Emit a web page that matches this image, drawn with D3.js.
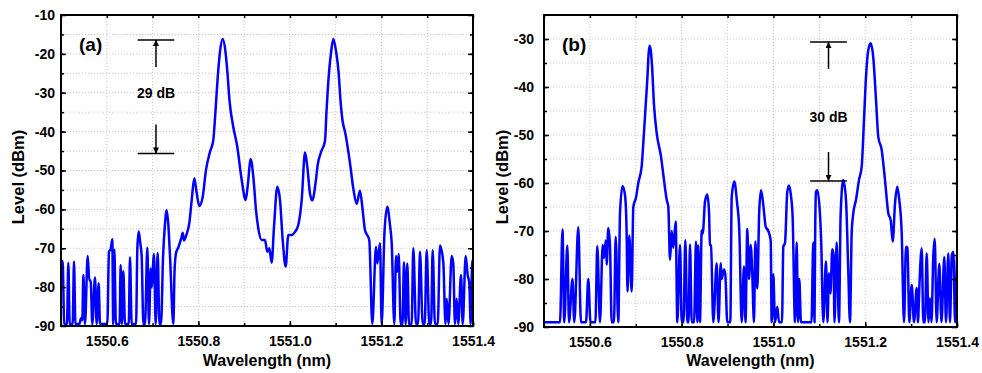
<!DOCTYPE html>
<html>
<head>
<meta charset="utf-8">
<script src="https://cdn.jsdelivr.net/npm/d3@7"></script>
<style>
  body { margin: 0; background: #fff; }
  svg text { font-family: Arial, "Liberation Sans", Helvetica, sans-serif; font-weight: bold; fill: #000; }
</style>
</head>
<body>
<svg id="chart" width="982" height="373"></svg>
<script>
// panel (a) spectrum
const wavelengthA = [1550.5000,1550.5036,1550.5070,1550.5130,1550.5160,1550.5190,1550.5255,1550.5284,1550.5315,1550.5400,
  1550.5437,1550.5466,1550.5488,1550.5524,1550.5583,1550.5619,1550.5648,1550.5684,1550.5743,1550.5779,
  1550.5823,1550.5852,1550.6012,1550.6048,1550.6085,1550.6121,1550.6140,1550.6165,1550.6200,1550.6280,
  1550.6303,1550.6330,1550.6362,1550.6398,1550.6480,1550.6507,1550.6544,1550.6640,1550.6668,1550.6697,
  1550.6730,1550.6762,1550.6800,1550.6835,1550.6886,1550.6922,1550.6959,1550.6980,1550.7031,1550.7068,
  1550.7112,1550.7150,1550.7185,1550.7230,1550.7270,1550.7308,1550.7345,1550.7381,1550.7454,1550.7480,
  1550.7512,1550.7563,1550.7600,1550.7637,1550.7658,1550.7687,1550.7746,1550.7803,1550.7855,1550.7912,
  1550.7964,1550.8021,1550.8095,1550.8167,1550.8255,1550.8327,1550.8373,1550.8430,1550.8473,1550.8532,
  1550.8593,1550.8637,1550.8681,1550.8764,1550.8851,1550.8947,1550.9034,1550.9078,1550.9144,1550.9201,
  1550.9260,1550.9310,1550.9384,1550.9456,1550.9506,1550.9550,1550.9602,1550.9653,1550.9725,1550.9784,
  1550.9843,1550.9908,1550.9965,1551.0039,1551.0111,1551.0183,1551.0258,1551.0330,1551.0380,1551.0439,
  1551.0489,1551.0563,1551.0607,1551.0679,1551.0767,1551.0799,1551.0853,1551.0901,1551.0948,1551.1011,
  1551.1066,1551.1105,1551.1153,1551.1204,1551.1313,1551.1385,1551.1459,1551.1531,1551.1590,1551.1640,
  1551.1734,1551.1800,1551.1881,1551.1909,1551.1968,1551.2005,1551.2066,1551.2127,1551.2186,1551.2224,
  1551.2281,1551.2318,1551.2346,1551.2377,1551.2420,1551.2460,1551.2492,1551.2529,1551.2564,1551.2602,
  1551.2660,1551.2696,1551.2755,1551.2800,1551.2842,1551.2901,1551.2945,1551.2988,1551.3045,1551.3085,
  1551.3119,1551.3169,1551.3230,1551.3279,1551.3351,1551.3399,1551.3425,1551.3465,1551.3534,1551.3569,
  1551.3606,1551.3643,1551.3678,1551.3738,1551.3775,1551.3840,1551.3884,1551.3919,1551.3950,1551.3984,
  1551.4000];
const levelA = [-73.3,-73.3,-89.5,-89.5,-73.7,-89.5,-89.5,-73.4,-89.5,-89.5,
  -88,-88.5,-76.9,-89.5,-72,-78.3,-78.3,-89.5,-77.5,-89.5,
  -79,-89.5,-89.5,-70.9,-70.3,-67.7,-89.5,-70.4,-89.5,-89.5,
  -74.3,-89.5,-75.9,-89.5,-89.5,-72.3,-89.5,-89.5,-70,-65.7,
  -68.5,-72,-89.5,-89.5,-69.9,-89.5,-75.2,-80,-71.5,-89.5,
  -71.2,-89.5,-89.5,-72,-64,-60.2,-64,-72,-89.5,-76,
  -71.3,-69.8,-68.5,-67,-66,-68,-66.3,-63.5,-57.6,-52,
  -55.8,-59.1,-56.8,-49.9,-45.2,-42.2,-35,-25,-19.5,-16.2,
  -19.5,-25,-32,-38.8,-43.9,-52.4,-57.6,-54,-47.1,-51.6,
  -60.2,-64.9,-67.9,-67.9,-70.9,-70,-73.7,-64.5,-54.2,-57.6,
  -67.9,-74.7,-66.6,-66.6,-65.8,-64,-57.6,-45.4,-49,-55.9,
  -57.7,-53,-48.6,-45.3,-42.4,-35,-25,-19.5,-16.2,-19.5,
  -25,-31.9,-37.4,-40,-48.1,-54.6,-58.6,-55.2,-60.2,-65.3,
  -67.9,-89.5,-69.6,-73.9,-68.7,-89.5,-66,-59.3,-64,-68.7,
  -89.5,-72,-76,-71.5,-89.5,-89.5,-73.6,-89.5,-73.9,-89.5,
  -89.5,-70,-89.5,-89.5,-70.9,-89.5,-89.5,-70.5,-89.5,-89.5,
  -70.5,-89.5,-89.5,-69.3,-73.6,-89.5,-83,-89.5,-72,-73.9,
  -89.5,-83,-89.5,-76.9,-89.5,-72,-76.9,-79,-89.5,-73.1,
  -75];

// panel (b) spectrum
const wavelengthB = [1550.5000,1550.5349,1550.5403,1550.5442,1550.5508,1550.5545,1550.5621,1550.5660,1550.5747,1550.5806,
  1550.5915,1550.5965,1550.6013,1550.6120,1550.6161,1550.6220,1550.6279,1550.6307,1550.6345,1550.6366,
  1550.6401,1550.6438,1550.6475,1550.6525,1550.6562,1550.6619,1550.6656,1550.6711,1550.6765,1550.6800,
  1550.6820,1550.6859,1550.6911,1550.6946,1550.7005,1550.7055,1550.7129,1550.7164,1550.7223,1550.7255,
  1550.7280,1550.7303,1550.7328,1550.7353,1550.7397,1550.7456,1550.7550,1550.7615,1550.7674,1550.7709,
  1550.7746,1550.7783,1550.7818,1550.7870,1550.7905,1550.7964,1550.8001,1550.8040,1550.8079,1550.8123,
  1550.8150,1550.8182,1550.8219,1550.8270,1550.8312,1550.8340,1550.8362,1550.8399,1550.8437,1550.8460,
  1550.8508,1550.8559,1550.8596,1550.8617,1550.8640,1550.8689,1550.8763,1550.8803,1550.8851,1550.8870,
  1550.8922,1550.8950,1550.8994,1550.9060,1550.9090,1550.9147,1550.9206,1550.9256,1550.9308,1550.9358,
  1550.9391,1550.9430,1550.9467,1550.9504,1550.9539,1550.9576,1550.9605,1550.9648,1550.9690,1550.9729,
  1550.9779,1550.9831,1550.9888,1550.9940,1550.9962,1550.9997,1551.0034,1551.0084,1551.0121,1551.0186,
  1551.0215,1551.0252,1551.0302,1551.0339,1551.0380,1551.0419,1551.0470,1551.0507,1551.0535,1551.0563,
  1551.0600,1551.0829,1551.0868,1551.0895,1551.0910,1551.0927,1551.0956,1551.1014,1551.1040,1551.1086,
  1551.1145,1551.1178,1551.1210,1551.1243,1551.1282,1551.1310,1551.1330,1551.1378,1551.1428,1551.1465,
  1551.1522,1551.1581,1551.1631,1551.1668,1551.1705,1551.1740,1551.1799,1551.1864,1551.1923,1551.1973,
  1551.2017,1551.2067,1551.2119,1551.2176,1551.2235,1551.2285,1551.2359,1551.2431,1551.2503,1551.2555,
  1551.2599,1551.2649,1551.2699,1551.2742,1551.2795,1551.2845,1551.2888,1551.2921,1551.2960,1551.3013,
  1551.3063,1551.3122,1551.3150,1551.3178,1551.3231,1551.3266,1551.3300,1551.3340,1551.3379,1551.3412,
  1551.3444,1551.3483,1551.3514,1551.3557,1551.3614,1551.3662,1551.3723,1551.3760,1551.3810,1551.3847,
  1551.3887,1551.3921,1551.3958,1551.4000];
const levelB = [-89,-89,-69.7,-89,-73,-89,-80,-89,-69.2,-89,
  -89,-80,-89,-89,-73.1,-89,-72.9,-75.6,-72,-77,
  -69.4,-73,-89,-89,-71.2,-89,-66.3,-60.6,-62.5,-70,
  -82.6,-71,-82.6,-65,-63,-60,-56.5,-51.7,-42.7,-37.8,
  -33,-31.4,-32.5,-35.4,-43.7,-49.6,-54.5,-59.4,-63.5,-65,
  -76,-70,-73.5,-68,-89,-72.9,-89,-89,-71.9,-89,
  -89,-72.8,-89,-89,-72.2,-89,-73,-89,-69.9,-70.5,
  -63.9,-62.4,-66,-72.9,-73,-89,-76.7,-89,-76.7,-80,
  -78,-79,-89,-89,-63,-59.7,-64,-69.9,-89,-77.4,
  -89,-69.6,-80,-72.9,-79,-89,-72.2,-82,-66,-61.5,
  -64.6,-69.1,-70,-72,-89,-79,-89,-85.8,-89,-89,
  -73.3,-72.5,-61.8,-60.5,-62.5,-67.3,-89,-72.4,-89,-80,
  -89,-89,-72.4,-89,-70,-61.8,-61.5,-66.5,-72,-89,
  -76.3,-89,-78.8,-83,-73.8,-75,-89,-72.4,-89,-66.3,
  -59.4,-63.5,-78.4,-89,-70.4,-66.3,-63.5,-59.4,-56.6,-46.9,
  -37.9,-32.3,-30.9,-33.9,-42.7,-50.4,-53.1,-59.4,-66.3,-67.7,
  -72.2,-64.3,-60.8,-63.5,-70.4,-89,-73.3,-73.5,-89,-81.2,
  -89,-81.9,-89,-82,-73.6,-89,-89,-74.7,-89,-84,
  -89,-75.4,-71.6,-89,-76.8,-89,-75.4,-89,-74.7,-89,
  -75,-74.4,-89,-75];

const xTickValues = [1550.6, 1550.8, 1551.0, 1551.2, 1551.4];
const yTicksA = [-10, -20, -30, -40, -50, -60, -70, -80, -90];
const yTicksB = [-30, -40, -50, -60, -70, -80, -90];

// the dB spacing markers: [wavelength, upper level, lower level, text level, label]
const markerA = [1550.7075, -16.4, -45.6, -30.1, '29 dB'];
const markerB = [1551.1200, -30.6, -59.6, -46.3, '30 dB'];

const svg = d3.select('#chart');

svg.append('defs').append('marker')
  .attr('id', 'head')
  .attr('viewBox', '0 0 10 10')
  .attr('refX', 10).attr('refY', 5)
  .attr('markerWidth', 10).attr('markerHeight', 6)
  .attr('markerUnits', 'userSpaceOnUse')
  .attr('orient', 'auto')
  .append('path').attr('d', 'M0,0 L10,5 L0,10 Z').attr('fill', '#000');

function drawPanel(p) {
  const g = svg.append('g');
  const x = d3.scaleLinear().domain([1550.5, 1551.4]).range([p.left, p.right]);
  const y = d3.scaleLinear().domain(p.yDomain).range([p.bottom, p.top]);

  // dotted grid every 0.1 nm and every 5 dB
  const gridX = d3.range(1, 9).map(i => 1550.5 + i * 0.1);
  const gridY = d3.range(p.yDomain[0] + 5, p.yDomain[1], 5);
  g.append('g').selectAll('line').data(gridX).join('line')
    .attr('x1', d => x(d)).attr('x2', d => x(d))
    .attr('y1', p.top).attr('y2', p.bottom)
    .attr('stroke', '#c8c8c8').attr('stroke-width', 1).attr('stroke-dasharray', '1,2');
  g.append('g').selectAll('line').data(gridY).join('line')
    .attr('x1', p.left).attr('x2', p.right)
    .attr('y1', d => y(d)).attr('y2', d => y(d))
    .attr('stroke', '#c8c8c8').attr('stroke-width', 1).attr('stroke-dasharray', '1,2');

  // spectrum
  const clipId = 'clip-' + p.name;
  g.append('clipPath').attr('id', clipId).append('rect')
    .attr('x', p.left).attr('y', p.top)
    .attr('width', p.right - p.left).attr('height', p.bottom - p.top);
  const pts = p.wl.map((w, i) => [w, p.lv[i]]);
  g.append('path')
    .datum(pts)
    .attr('clip-path', `url(#${clipId})`)
    .attr('fill', 'none')
    .attr('stroke', '#0000ff')
    .attr('stroke-width', 2.5)
    .attr('stroke-linejoin', 'round')
    .attr('d', d3.line().x(d => x(d[0])).y(d => y(d[1])).curve(d3.curveMonotoneX));

  // axes with inward ticks
  const fmt = d3.format('.1f');
  const minorX = gridX.concat([1550.5, 1551.4]);
  g.append('g').attr('transform', `translate(0,${p.bottom})`)
    .call(d3.axisBottom(x).tickValues(minorX).tickSize(-3).tickFormat(''));
  g.append('g').attr('transform', `translate(0,${p.bottom})`)
    .call(d3.axisBottom(x).tickValues(xTickValues).tickSize(-5).tickPadding(10).tickFormat(fmt));
  g.append('g').attr('transform', `translate(0,${p.top})`)
    .call(d3.axisTop(x).tickValues(minorX).tickSize(-3).tickFormat(''));
  g.append('g').attr('transform', `translate(${p.left},0)`)
    .call(d3.axisLeft(y).tickValues(gridY).tickSize(-3).tickFormat(''));
  g.append('g').attr('transform', `translate(${p.left},0)`)
    .call(d3.axisLeft(y).tickValues(p.yTicks).tickSize(-5).tickPadding(p.yPad).tickFormat(d => String(d)));
  g.append('g').attr('transform', `translate(${p.right},0)`)
    .call(d3.axisRight(y).tickValues(gridY).tickSize(-3).tickFormat(''));
  g.append('g').attr('transform', `translate(${p.right},0)`)
    .call(d3.axisRight(y).tickValues(p.yTicks).tickSize(-5).tickFormat(''));
  g.selectAll('.domain').remove();
  g.selectAll('.tick line').attr('stroke', '#000').attr('stroke-width', 1.5);
  g.selectAll('.tick text')
    .style('font-size', '14px').style('font-weight', 'bold')
    .style('font-family', 'Arial, "Liberation Sans", sans-serif')
    .attr('fill', '#000');

  g.append('rect')
    .attr('x', p.left).attr('y', p.top)
    .attr('width', p.right - p.left).attr('height', p.bottom - p.top)
    .attr('fill', 'none').attr('stroke', '#000').attr('stroke-width', 2);

  // axis titles
  g.append('text')
    .attr('x', (p.left + p.right) / 2).attr('y', 366)
    .attr('text-anchor', 'middle').style('font-size', '16px')
    .text('Wavelength (nm)');
  g.append('text')
    .attr('transform', `translate(${p.titleX},177) rotate(-90)`)
    .attr('text-anchor', 'middle').style('font-size', '16.5px')
    .text('Level (dBm)');

  // panel tag
  g.append('text')
    .attr('x', p.left + 18).attr('y', 51)
    .style('font-size', '19px')
    .text(p.tag);

  // spacing marker
  const m = p.marker;
  const half = 0.04;
  [m[1], m[2]].forEach(v => {
    g.append('line')
      .attr('x1', x(m[0] - half)).attr('x2', x(m[0] + half))
      .attr('y1', y(v)).attr('y2', y(v))
      .attr('stroke', '#000').attr('stroke-width', 1.5);
  });
  g.append('line')
    .attr('x1', x(m[0])).attr('x2', x(m[0]))
    .attr('y1', y(m[1]) + 27).attr('y2', y(m[1]))
    .attr('stroke', '#000').attr('stroke-width', 1.5)
    .attr('marker-end', 'url(#head)');
  g.append('line')
    .attr('x1', x(m[0])).attr('x2', x(m[0]))
    .attr('y1', y(m[2]) - 29).attr('y2', y(m[2]))
    .attr('stroke', '#000').attr('stroke-width', 1.5)
    .attr('marker-end', 'url(#head)');
  g.append('text')
    .attr('x', x(m[0])).attr('y', y(m[3]) + 5)
    .attr('text-anchor', 'middle').style('font-size', '14px')
    .text(m[4]);
}

drawPanel({ name: 'a', tag: '(a)', left: 61, right: 473, top: 15, bottom: 326,
  yDomain: [-90, -10], yTicks: yTicksA, yPad: 6, titleX: 24,
  wl: wavelengthA, lv: levelA, marker: markerA });
drawPanel({ name: 'b', tag: '(b)', left: 544, right: 957, top: 15, bottom: 327,
  yDomain: [-90, -25], yTicks: yTicksB, yPad: 10, titleX: 508,
  wl: wavelengthB, lv: levelB, marker: markerB });
</script>
</body>
</html>
